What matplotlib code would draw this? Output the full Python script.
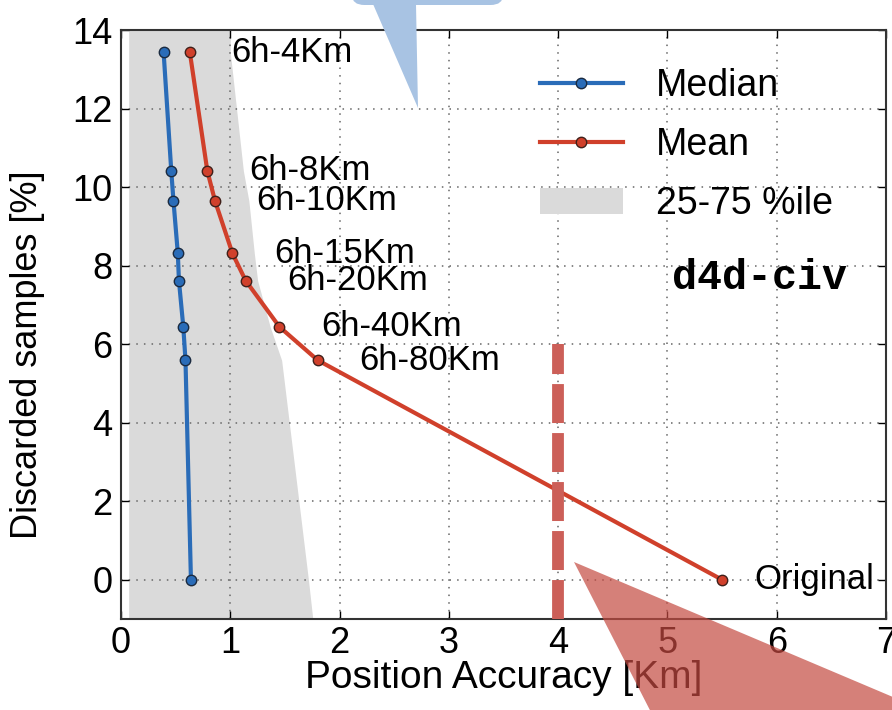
import numpy as np
import matplotlib
matplotlib.use('Agg')
import matplotlib.pyplot as plt
from matplotlib.patches import Polygon, FancyBboxPatch

plt.rcParams['font.family'] = ['Liberation Sans', 'DejaVu Sans']

# discarded samples [%] for each filter setting
discarded = [13.43, 10.41, 9.65, 8.31, 7.62, 6.44, 5.59, 0.0]
median_acc = [0.39, 0.46, 0.48, 0.52, 0.53, 0.57, 0.59, 0.64]
mean_acc = [0.63, 0.79, 0.86, 1.02, 1.14, 1.45, 1.80, 5.50]
labels = ['6h-4Km', '6h-8Km', '6h-10Km', '6h-15Km', '6h-20Km',
          '6h-40Km', '6h-80Km', 'Original']

# 25-75 %ile band (x range at each y)
band_y = [14.0, 13.43, 10.41, 9.65, 8.31, 7.62, 6.44, 5.59, 0.0, -1.0]
band_lo = [0.07, 0.07, 0.07, 0.07, 0.07, 0.07, 0.07, 0.07, 0.07, 0.07]
band_hi = [1.0, 1.0, 1.12, 1.17, 1.22, 1.25, 1.365, 1.47, 1.715, 1.755]

# 4 Km threshold marker
thr_x = [4, 4]
thr_y = [-1, 6]

blue = '#2a6cb8'
red = '#d0402b'

fig = plt.figure(figsize=(8.92, 7.10), dpi=100)
ax = fig.add_axes([121/892, 1-619/710, (886-121)/892, (619-30)/710])

ax.fill_betweenx(band_y, band_lo, band_hi, color='#dadada', lw=0,
                 label='25-75 %ile', zorder=1)
ax.plot(median_acc, discarded, '-o', color=blue, lw=3, ms=7.5,
        mec='#1a2a40', mew=1, label='Median', zorder=3)
ax.plot(mean_acc, discarded, '-o', color=red, lw=3, ms=7.5,
        mec='#40201a', mew=1, label='Mean', zorder=3)

for i, lab in enumerate(labels):
    off = 23 if lab == 'Original' else 30
    ax.annotate(lab, (mean_acc[i], discarded[i]), xytext=(off, 0),
                textcoords='offset points', ha='left', va='center',
                fontsize=25)

ax.plot(thr_x, thr_y, color='#cc5f58', lw=8.5, dashes=(3.3, 0.85),
        solid_capstyle='butt', zorder=4)

ax.text(5.84, 7.68, 'd4d-civ', family='Liberation Mono', weight='bold',
        fontsize=30, ha='center', va='center')

ax.set_xlim(0, 7)
ax.set_ylim(-1, 14)
ax.set_xticks(range(0, 8))
ax.set_yticks(range(0, 15, 2))
ax.grid(True, ls=(0, (1, 4)), color='#666666', lw=1.1)
ax.tick_params(direction='in', top=True, right=True, length=6, width=1,
               labelsize=26)
ax.tick_params(axis='x', pad=5)
ax.tick_params(axis='y', pad=6)
for s in ax.spines.values():
    s.set_linewidth(1.5)
    s.set_color('#333333')
ax.set_xlabel('Position Accuracy [Km]', fontsize=28, labelpad=-1)
ax.set_ylabel('Discarded samples [%]', fontsize=26)
ax.yaxis.set_label_coords(-0.099, 0.448)

h, l = ax.get_legend_handles_labels()
order = [1, 2, 0]
ax.legend([h[k] for k in order], [l[k] for k in order], loc='upper left',
          bbox_to_anchor=((540-121)/765, 0.936), frameon=False, fontsize=27,
          handlelength=2.2, handletextpad=0.9, labelspacing=0.62,
          borderpad=0, borderaxespad=0)

# overlay shapes (figure pixel coords, y from top)
W, H = 892, 710
def fp(pts):
    return [(x/W, 1-y/H) for x, y in pts]

box = FancyBboxPatch((352/W, 1-5/H), (503-352)/W, 60/H,
                     boxstyle='round,pad=0,rounding_size=0.014',
                     transform=fig.transFigure, color='#a8c3e3', lw=0)
fig.add_artist(box)
fig.add_artist(Polygon(fp([(373, 4), (418, 108), (416, 4)]), closed=True,
                       transform=fig.transFigure, color='#a8c3e3', lw=0))
fig.add_artist(Polygon(fp([(574, 562), (900, 700), (900, 720), (655, 720)]),
                       closed=True, transform=fig.transFigure,
                       color='#c44a41', alpha=0.7, lw=0))

fig.savefig('out.png', dpi=100)
